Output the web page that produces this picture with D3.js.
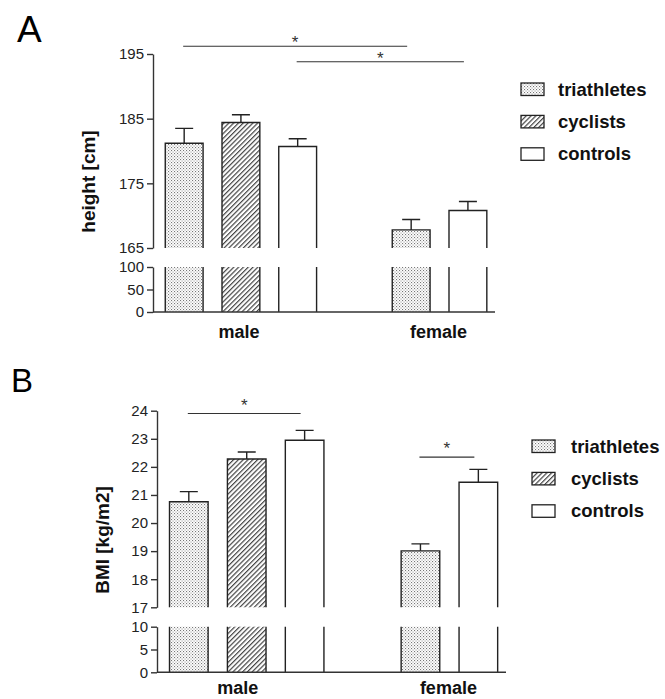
<!DOCTYPE html>
<html>
<head>
<meta charset="utf-8">
<script src="https://cdn.jsdelivr.net/npm/d3@7"></script>
<style>
body { margin: 0; background: #fff; }
svg { display: block; font-family: Arial, "Liberation Sans", sans-serif; }
</style>
</head>
<body>
<div id="chart"></div>
<script>
// bar slots: male has three bars, female has no cyclists
var slots = ["male-triathletes", "male-cyclists", "male-controls", "gap", "female-triathletes", "female-controls"];
var slotGroup = ["triathletes", "cyclists", "controls", null, "triathletes", "controls"];
var categories = ["male", "female"];
var categorySlots = [[0, 1, 2], [4, 5]];
var groups = ["triathletes", "cyclists", "controls"];

var heightMeans = [181.2, 184.4, 180.7, null, 167.8, 170.8];
var heightSE = [2.3, 1.2, 1.2, null, 1.6, 1.4];
var bmiMeans = [20.76, 22.28, 22.95, null, 19.01, 21.45];
var bmiSE = [0.36, 0.25, 0.35, null, 0.25, 0.46];

var heightTicksUpper = [165, 175, 185, 195];
var heightTicksLower = [0, 50, 100];
var bmiTicksUpper = [17, 18, 19, 20, 21, 22, 23, 24];
var bmiTicksLower = [0, 5, 10];

// significance brackets: from slot, to slot, level in data units
var heightSig = [{from: 0, to: 4, level: 196.2}, {from: 2, to: 5, level: 193.8}];
var bmiSig = [{from: 0, to: 2, level: 23.9}, {from: 4, to: 5, level: 22.35}];

var width = 665, height = 699;
var ink = "#333";

var svg = d3.select("#chart").append("svg")
    .attr("width", width)
    .attr("height", height);

// fill patterns
var defs = svg.append("defs");
var dots = defs.append("pattern")
    .attr("id", "dots")
    .attr("patternUnits", "userSpaceOnUse")
    .attr("width", 3).attr("height", 3);
dots.append("rect").attr("width", 3).attr("height", 3).attr("fill", "#fff");
dots.append("rect").attr("x", 0).attr("y", 0).attr("width", 1.1).attr("height", 1.1).attr("fill", "#777");
dots.append("rect").attr("x", 1.5).attr("y", 1.5).attr("width", 1.1).attr("height", 1.1).attr("fill", "#999");

var hatch = defs.append("pattern")
    .attr("id", "hatch")
    .attr("patternUnits", "userSpaceOnUse")
    .attr("width", 3.4).attr("height", 3.4)
    .attr("patternTransform", "rotate(45)");
hatch.append("rect").attr("width", 3.4).attr("height", 3.4).attr("fill", "#fff");
hatch.append("line").attr("x1", 0.6).attr("y1", 0).attr("x2", 0.6).attr("y2", 3.4)
    .attr("stroke", "#444").attr("stroke-width", 1.2);

var fills = {triathletes: "url(#dots)", cyclists: "url(#hatch)", controls: "#fff"};

function drawPanel(cfg) {
    var g = svg.append("g");

    var x = d3.scaleBand().domain(slots)
        .range([cfg.axisX, cfg.rightX])
        .paddingInner(1 / 3).paddingOuter(0.18).align(0.6);
    var yUp = d3.scaleLinear().domain(cfg.upperDomain).range(cfg.upperRange);
    var yLow = d3.scaleLinear().domain(cfg.lowerDomain).range(cfg.lowerRange);

    // panel letter
    g.append("text")
        .attr("x", cfg.letterX).attr("y", cfg.letterY)
        .attr("font-size", cfg.letterSize)
        .attr("fill", "#000")
        .text(cfg.letter);

    // y axis label
    g.append("text")
        .attr("transform", "translate(" + cfg.labelX + "," + cfg.labelY + ") rotate(-90)")
        .attr("text-anchor", "middle")
        .attr("font-size", 19).attr("font-weight", "bold")
        .attr("fill", "#111")
        .text(cfg.yLabel);

    var data = slots.map(function(s, i) {
        return {slot: s, group: slotGroup[i], mean: cfg.means[i], se: cfg.se[i]};
    }).filter(function(d) { return d.mean !== null; });

    var bw = x.bandwidth();
    var upBottom = yUp(cfg.upperDomain[0]);
    var lowTop = yLow(cfg.lowerDomain[1]);
    var lowBottom = yLow(0);

    // bars: upper segment
    g.selectAll(".barUp").data(data).enter().append("rect")
        .attr("class", "barUp")
        .attr("x", function(d) { return x(d.slot); })
        .attr("y", function(d) { return yUp(d.mean); })
        .attr("width", bw)
        .attr("height", function(d) { return upBottom - yUp(d.mean); })
        .attr("fill", function(d) { return fills[d.group]; });
    g.selectAll(".barUpEdge").data(data).enter().append("path")
        .attr("class", "barUpEdge")
        .attr("fill", "none").attr("stroke", "#222").attr("stroke-width", 1.4)
        .attr("d", function(d) {
            var x0 = x(d.slot), x1 = x0 + bw, y0 = yUp(d.mean);
            return "M" + x0 + "," + upBottom + "V" + y0 + "H" + x1 + "V" + upBottom;
        });

    // bars: lower segment
    g.selectAll(".barLow").data(data).enter().append("rect")
        .attr("class", "barLow")
        .attr("x", function(d) { return x(d.slot); })
        .attr("y", lowTop)
        .attr("width", bw)
        .attr("height", lowBottom - lowTop)
        .attr("fill", function(d) { return fills[d.group]; });
    g.selectAll(".barLowEdge").data(data).enter().append("path")
        .attr("class", "barLowEdge")
        .attr("fill", "none").attr("stroke", "#222").attr("stroke-width", 1.4)
        .attr("d", function(d) {
            var x0 = x(d.slot), x1 = x0 + bw;
            return "M" + x0 + "," + lowTop + "V" + lowBottom + "M" + x1 + "," + lowTop + "V" + lowBottom;
        });

    // error bars (upper only)
    var capHalf = 9;
    g.selectAll(".err").data(data).enter().append("path")
        .attr("class", "err")
        .attr("fill", "none").attr("stroke", "#222").attr("stroke-width", 1.4)
        .attr("d", function(d) {
            var cx = x(d.slot) + bw / 2, y0 = yUp(d.mean), y1 = yUp(d.mean + d.se);
            return "M" + cx + "," + y0 + "V" + y1 + "M" + (cx - capHalf) + "," + y1 + "H" + (cx + capHalf);
        });

    // axes
    var fmt = d3.format("d");
    var axUp = d3.axisLeft(yUp).tickValues(cfg.ticksUpper).tickFormat(fmt).tickSize(6).tickSizeOuter(0).tickPadding(3);
    var axLow = d3.axisLeft(yLow).tickValues(cfg.ticksLower).tickFormat(fmt).tickSize(6).tickSizeOuter(0).tickPadding(3);
    [axUp, axLow].forEach(function(a) {
        var ag = g.append("g")
            .attr("transform", "translate(" + cfg.axisX + ",0)")
            .call(a);
        ag.selectAll("path, line").attr("stroke", ink).attr("stroke-width", 1.4);
        ag.selectAll("text")
            .attr("font-size", 15)
            .attr("font-family", "Arial, 'Liberation Sans', sans-serif")
            .attr("fill", "#222");
    });

    // baseline
    g.append("line")
        .attr("x1", cfg.axisX).attr("x2", cfg.rightX)
        .attr("y1", lowBottom).attr("y2", lowBottom)
        .attr("stroke", ink).attr("stroke-width", 1.4);

    // category labels
    g.selectAll(".cat").data(categories).enter().append("text")
        .attr("class", "cat")
        .attr("x", function(d, i) {
            var s = categorySlots[i];
            return (x(slots[s[0]]) + x(slots[s[s.length - 1]]) + bw) / 2 + cfg.catDx[i];
        })
        .attr("y", cfg.catY)
        .attr("text-anchor", "middle")
        .attr("font-size", 18).attr("font-weight", "bold")
        .attr("fill", "#111")
        .text(function(d) { return d; });

    // significance brackets
    g.selectAll(".sig").data(cfg.sig).enter().append("line")
        .attr("class", "sig")
        .attr("x1", function(d) { return x(slots[d.from]) + bw / 2 - 1; })
        .attr("x2", function(d) { return x(slots[d.to]) + bw / 2 - 4; })
        .attr("y1", function(d) { return yUp(d.level); })
        .attr("y2", function(d) { return yUp(d.level); })
        .attr("stroke", ink).attr("stroke-width", 1.2);
    g.selectAll(".star").data(cfg.sig).enter().append("text")
        .attr("class", "star")
        .attr("x", function(d) { return (x(slots[d.from]) + x(slots[d.to]) + bw - 5) / 2; })
        .attr("y", function(d) { return yUp(d.level) + cfg.starDy; })
        .attr("text-anchor", "middle")
        .attr("font-size", 17)
        .attr("fill", ink)
        .text("*");

    // legend
    var lg = g.append("g").attr("transform", "translate(" + cfg.legendX + "," + cfg.legendY + ")");
    var rows = lg.selectAll(".row").data(groups).enter().append("g")
        .attr("class", "row")
        .attr("transform", function(d, i) { return "translate(0," + (i * 32.4) + ")"; });
    rows.append("rect")
        .attr("width", 23).attr("height", 12.5)
        .attr("fill", function(d) { return fills[d]; })
        .attr("stroke", "#222").attr("stroke-width", 1.3);
    rows.append("text")
        .attr("x", cfg.legendTextDx).attr("y", 12.5)
        .attr("font-size", 18.5).attr("font-weight", "bold")
        .attr("fill", "#111")
        .text(function(d) { return d; });
}

drawPanel({
    letter: "A", letterX: 17, letterY: 42, letterSize: 37,
    yLabel: "height [cm]", labelX: 95, labelY: 181.5,
    axisX: 153, rightX: 495,
    upperDomain: [165, 195], upperRange: [248, 54],
    lowerDomain: [0, 100], lowerRange: [312, 267],
    ticksUpper: heightTicksUpper, ticksLower: heightTicksLower,
    means: heightMeans, se: heightSE, sig: heightSig, starDy: 2,
    catY: 338, catDx: [-2, -1],
    legendX: 521, legendY: 83, legendTextDx: 37
});

drawPanel({
    letter: "B", letterX: 11, letterY: 392, letterSize: 33,
    yLabel: "BMI [kg/m2]", labelX: 108.5, labelY: 540,
    axisX: 157, rightX: 506,
    upperDomain: [17, 24], upperRange: [607.3, 410.7],
    lowerDomain: [0, 10], lowerRange: [672.3, 626.7],
    ticksUpper: bmiTicksUpper, ticksLower: bmiTicksLower,
    means: bmiMeans, se: bmiSE, sig: bmiSig, starDy: -3,
    catY: 694, catDx: [-9, -1],
    legendX: 532, legendY: 440, legendTextDx: 39
});
</script>
</body>
</html>
